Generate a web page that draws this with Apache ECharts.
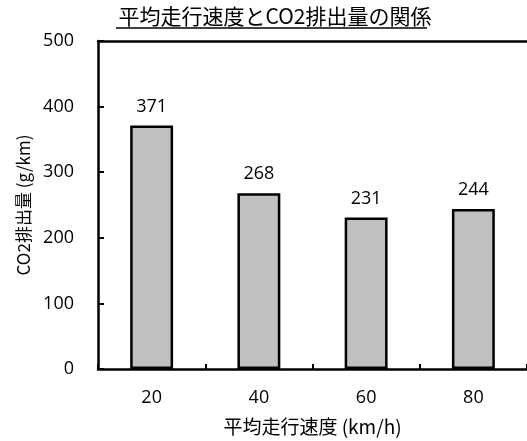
<!DOCTYPE html>
<html>
<head>
<meta charset="utf-8">
<script src="https://cdn.jsdelivr.net/npm/echarts@6/dist/echarts.min.js"></script>
<style>
  html, body { margin: 0; padding: 0; background: #fff; }
  #chart { width: 527px; height: 441px; }
</style>
</head>
<body>
<div id="chart"></div>
<script>
// Average travel speed (km/h) vs CO2 emissions (g/km)
const speeds = ['20', '40', '60', '80'];
const emissions = [371, 268, 231, 244];
const yTicks = { min: 0, max: 500, interval: 100 };

const titleText = '平均走行速度とCO2排出量の関係';
const xName = '平均走行速度 (km/h)';
const yName = 'CO2排出量 (g/km)';

const cjk = '"Noto Sans CJK JP", "Noto Sans", sans-serif';
const num = '"Open Sans", "Noto Sans", sans-serif';

const chart = echarts.init(document.getElementById('chart'), null, { renderer: 'canvas' });

chart.setOption({
  backgroundColor: '#ffffff',
  animation: false,
  title: {
    text: titleText,
    left: 270,
    textAlign: 'center',
    top: 1,
    textStyle: { fontFamily: cjk, fontSize: 21, fontWeight: 'normal', color: '#000' }
  },
  // underline beneath the title
  graphic: [{
    type: 'line',
    shape: { x1: 116, y1: 28, x2: 427, y2: 28 },
    style: { stroke: '#000', lineWidth: 1.5 }
  }],
  grid: { left: 98, top: 41, bottom: 71, right: -2, containLabel: false },
  xAxis: [{
    type: 'category',
    data: speeds,
    name: xName,
    nameLocation: 'middle',
    nameGap: 48,
    nameTextStyle: { fontFamily: cjk, fontSize: 19, color: '#000' },
    axisLine: { lineStyle: { color: '#000', width: 2.5 } },
    axisTick: { show: true, inside: true, length: 5, lineStyle: { color: '#000', width: 2 } },
    axisLabel: { fontFamily: num, fontSize: 18, color: '#000', margin: 20 }
  }, {
    type: 'category',
    data: speeds,
    position: 'top',
    axisLine: { lineStyle: { color: '#000', width: 2.5 } },
    axisTick: { show: false },
    axisLabel: { show: false }
  }],
  yAxis: {
    type: 'value',
    min: yTicks.min,
    max: yTicks.max,
    interval: yTicks.interval,
    name: yName,
    nameLocation: 'middle',
    nameGap: 66,
    nameTextStyle: { fontFamily: cjk, fontSize: 17, color: '#000' },
    axisLine: { show: true, lineStyle: { color: '#000', width: 2.5 } },
    axisTick: { show: true, inside: true, length: 6, lineStyle: { color: '#000', width: 2 } },
    axisLabel: { fontFamily: num, fontSize: 18, color: '#000', margin: 24 },
    splitLine: { show: false }
  },
  series: [{
    type: 'bar',
    data: emissions,
    barWidth: '40%',
    itemStyle: { color: '#c0c0c0', borderColor: '#000', borderWidth: 2.5 },
    label: {
      show: true,
      position: 'top',
      distance: 10,
      fontFamily: num,
      fontSize: 18,
      color: '#000'
    }
  }]
});
</script>
</body>
</html>
